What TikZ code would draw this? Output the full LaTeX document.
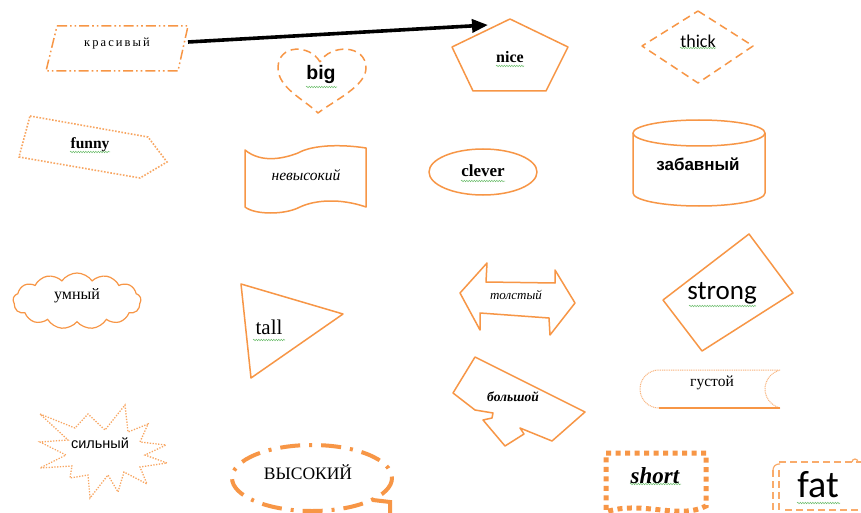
\documentclass[tikz,border=0pt]{standalone}
\usepackage{fontspec}
\setmainfont{Liberation Serif}
\newfontfamily\arialf{Liberation Sans}
\newfontfamily\calib{Carlito}
\usetikzlibrary{arrows.meta,shapes.symbols,decorations.pathmorphing}
\definecolor{shp}{HTML}{F79646}
\definecolor{spell}{HTML}{6DBE6D}
\tikzset{
  outl/.style={draw=shp, line width=1.5pt, line join=round},
  dashedoutl/.style={outl, dash pattern=on 8pt off 5pt},
  dotoutl/.style={draw=shp!85, line width=1.6pt, dash pattern=on 1.6pt off 1.6pt},
  lbl/.style={inner sep=0pt, text=black},
  squig/.style={draw=spell, line width=0.5pt, decorate, decoration={snake, amplitude=0.7pt, segment length=2.5pt}},
  scrl/.style={draw=shp!80, line width=1.2pt},
}
\newcommand{\fs}[1]{\fontsize{#1}{#1}\selectfont}
\begin{document}
\begin{tikzpicture}[x=1pt,y=-1pt]
\useasboundingbox (0,0) rectangle (861,513);
\clip (0,0) rectangle (861,513);
\fill[white] (0,0) rectangle (861,513);

% parallelogram
\draw[outl, dash pattern=on 10pt off 3pt on 1.6pt off 3pt on 1.6pt off 3pt]
  (57,26) -- (188,26) -- (178,71) -- (46,71) -- cycle;
\node[lbl, font=\fs{12.5}] (kras) at (117,44) {к\,р\,а\,с\,и\,в\,ы\,й};
\coordinate (kras-e) at (188,42);

% heart
\draw[dashedoutl] (320,62) .. controls (310,44) and (278,44) .. (278,68)
  .. controls (278,88) and (305,100) .. (318,113)
  .. controls (335,100) and (366,86) .. (366,68)
  .. controls (366,44) and (330,44) .. (320,62) -- cycle;
\node[lbl, font=\arialf\bfseries\fs{19.5}] (big) at (321,75) {big};
\draw[squig] (306,87) -- (337,87);

% pentagon
\draw[outl] (510,19) -- (568,47) -- (546,91) -- (473,91) -- (452,47) -- cycle;
\node[lbl, font=\bfseries\fs{16}] (nice) at (510,57) {nice};
\draw[squig] (496,66) -- (524,66);
\coordinate (nice-nw) at (488,25);

% arrow
\draw[line width=3.6pt, -{Triangle[length=16pt,width=13pt]}] (kras-e) -- (nice-nw);

% diamond
\draw[dashedoutl] (698,11) -- (753,46) -- (698,83) -- (642,46) -- cycle;
\node[lbl, font=\calib\fs{18}] (thick) at (698,41) {thick};
\draw[squig] (680,48) -- (716,48);

% funny pentagon arrow
\draw[dotoutl] (30,116) -- (148,137) -- (167,162) -- (140,178) -- (19,157) -- cycle;
\node[lbl, font=\bfseries\fs{15.5}] (funny) at (90,145) {funny};
\draw[squig] (70,152) -- (110,152);

% tape
\draw[outl] (245,150) .. controls (262,164) and (285,158) .. (298,153)
  .. controls (312,145) and (340,144) .. (366,148) -- (366,207)
  .. controls (340,198) and (315,200) .. (300,207)
  .. controls (285,215) and (255,215) .. (245,207) -- cycle;
\node[lbl, font=\itshape\fs{15.5}] (nevys) at (306,175) {невысокий};

% ellipse clever
\draw[outl] (483,172) ellipse [x radius=54, y radius=23];
\node[lbl, font=\bfseries\fs{17}] (clever) at (483,171) {clever};
\draw[squig] (461,181) -- (505,181);

% cylinder
\draw[outl] (699,133) ellipse [x radius=66, y radius=13];
\draw[outl] (633,133) -- (633,193) arc[start angle=180, end angle=0, x radius=66, y radius=13] -- (765,133);
\node[lbl, font=\arialf\bfseries\fs{17}] (zabav) at (698,164) {забавный};

% cloud
\node[cloud, cloud puffs=13, cloud puff arc=110, draw=shp, line width=1.2pt, minimum width=128pt, minimum height=56pt, aspect=2.3, inner sep=0pt] (cloudshape) at (77,301) {};
\node[lbl, font=\fs{16}] (umny) at (77,296) {умный};

% triangle
\draw[outl] (241,284) -- (343,314) -- (251,378) -- cycle;
\node[lbl, font=\fs{21}] (tall) at (269,327) {tall};
\draw[squig] (253,340) -- (285,340);

% left-right arrow
\draw[outl] (460,293) -- (487,263) -- (486,282) -- (555,283) -- (555,270) -- (575,303)
  -- (550,335) -- (549,318) -- (480,313) -- (480,330) -- cycle;
\node[lbl, font=\itshape\fs{13}] (tolst) at (516,295) {толстый};

% strong rotated rectangle
\draw[outl] (749,234) -- (793,293) -- (702,351) -- (663,300) -- cycle;
\node[lbl, font=\calib\fs{27}] (strong) at (722,293) {strong};
\draw[squig] (689,306) -- (756,306);

% bolshoi callout
\draw[outl] (475,357) -- (585,412) -- (552,441) -- (520,428) -- (524,434) -- (505,446)
  -- (483,420) -- (492,418) -- (493,413) -- (475,410) -- (453,393) -- cycle;
\node[lbl, font=\bfseries\itshape\fs{13.5}] (bolsh) at (513,397) {большой};

% gustoi
\draw[draw=shp!70, line width=1pt, dash pattern=on 1pt off 0.8pt]
  (780,370) -- (659,370) arc[start angle=-90, end angle=-270, radius=19] -- (780,408)
  .. controls (760,402) and (760,376) .. (780,370);
\draw[draw=shp, line width=1.4pt] (659,408) -- (780,408);
\node[lbl, font=\fs{15.5}] (gust) at (712,383) {густой};

% star burst
\draw[dotoutl, line width=1.3pt, dash pattern=on 1.3pt off 1.5pt]
  (40,414) -- (75,428) -- (88,414) -- (105,430) -- (125,405) -- (128,432)
  -- (148,424) -- (140,442) -- (166,445) -- (145,455) -- (167,463) -- (140,467)
  -- (147,484) -- (124,472) -- (118,492) -- (108,475) -- (90,498) -- (88,475)
  -- (70,478) -- (72,466) -- (40,468) -- (66,455) -- (40,442) -- (68,440) -- cycle;
\node[lbl, font=\arialf\fs{14.5}] (silny) at (100,443) {сильный};

% vysokiy ellipse callout
\draw[draw=shp, line width=4pt, dash pattern=on 20pt off 9pt on 3pt off 9pt]
  (312,478) ellipse [x radius=80, y radius=33];
\draw[draw=shp, line width=4pt] (373,500) -- (390,502) -- (390,515);
\node[lbl, font=\fs{17.5}] (vysok) at (308,472) {ВЫСОКИЙ};

% short document
\draw[draw=shp, line width=5pt, dash pattern=on 5pt off 4.5pt]
  (606,453) -- (706,453) -- (706,506) .. controls (680,520) and (640,500) .. (606,512) -- cycle;
\node[lbl, font=\bfseries\itshape\fs{23}] (short) at (655,476) {short};
\draw[squig] (630,484) -- (681,484);

% fat scroll
\draw[scrl, dash pattern=on 7pt off 4pt] (779,462) -- (861,462);
\draw[scrl] (852,462) arc[start angle=180, end angle=360, radius=3];
\draw[scrl] (773,470) arc[start angle=180, end angle=270, radius=6] -- (780,464);
\draw[scrl, dash pattern=on 7pt off 4pt] (773,470) -- (773,513);
\draw[scrl, dash pattern=on 7pt off 4pt] (779,470) -- (779,513);
\draw[scrl, dash pattern=on 7pt off 4pt] (785,510) -- (861,510);
\node[lbl, font=\calib\fs{38}] (fat) at (818,485) {fat};
\draw[squig] (797,503) -- (840,503);
\end{tikzpicture}
\end{document}
